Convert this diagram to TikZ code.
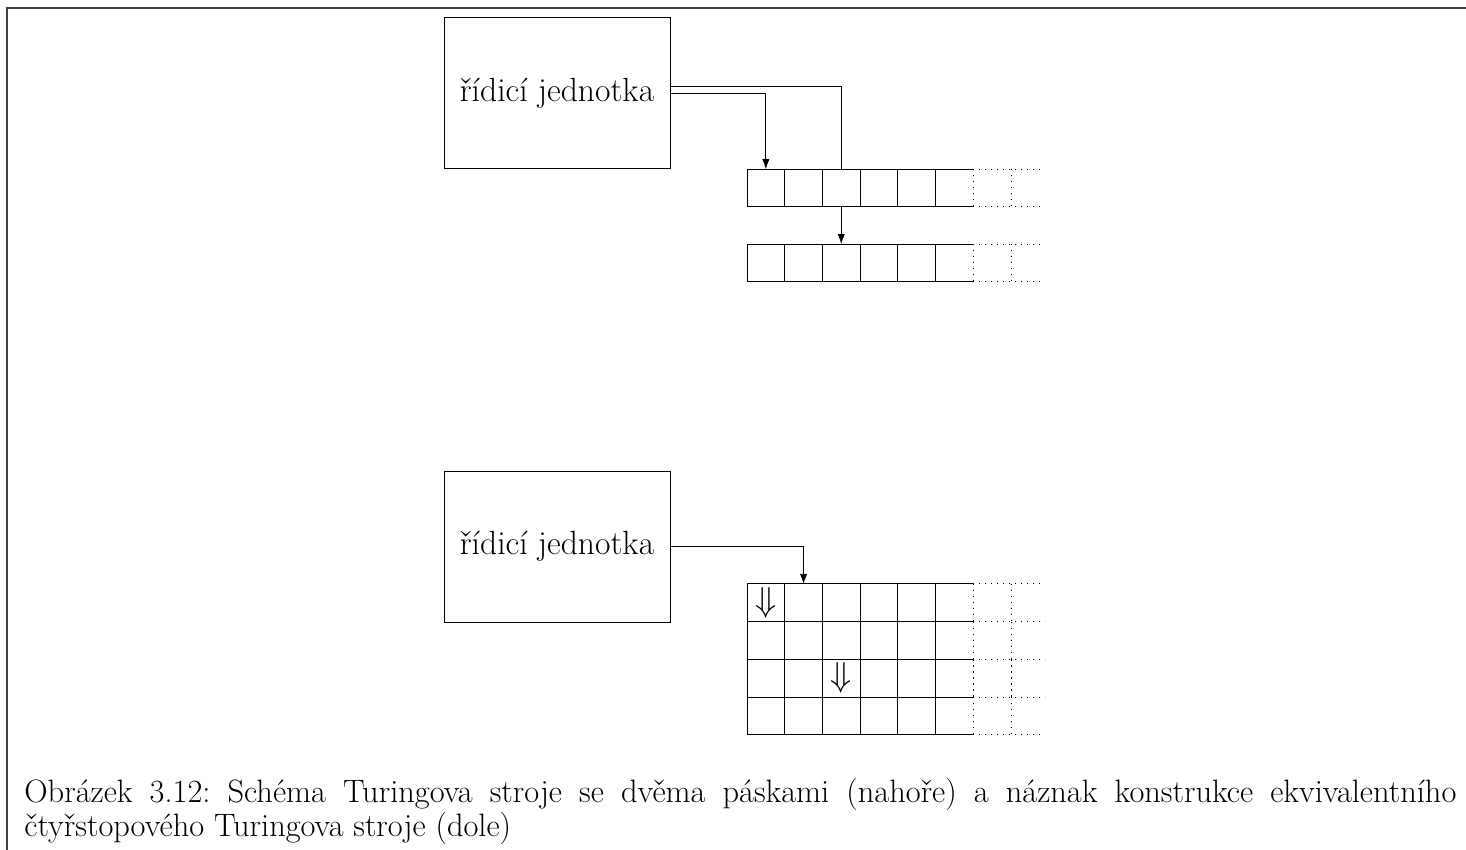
\documentclass[tikz,border=0pt]{standalone}
\usetikzlibrary{arrows.meta,calc}
\pgfdeclarelayer{background}
\pgfsetlayers{background,main}
\begin{document}
\begin{tikzpicture}[x=0.5pt,y=-0.5pt,line width=0.5pt,
  unitbox/.style={draw, minimum width=113pt, minimum height=75.5pt,
    inner sep=0pt, font=\fontsize{16.8}{19}\selectfont},
  cell/.style={fill=white, minimum size=18.85pt, inner sep=0pt, outer sep=0pt},
  head/.style={inner sep=0pt, font=\fontsize{16.8}{19}\selectfont},
  conn/.style={-{Latex[length=5pt,width=3.6pt]}},
  ext/.style={dash pattern=on 0.6pt off 2.4pt},
  frameline/.style={line width=0.7pt, draw=black!75}]
\useasboundingbox (0,0) rectangle (1466,850);
% page frame
\draw[frameline] (1466,8) -- (7,8) -- (7,850);

% control units
\node[unitbox] (A) at (557,93.5) {řídicí jednotka};
\node[unitbox] (B) at (557,546.5) {řídicí jednotka};

% two separate tapes
\foreach \t/\y in {a/188, b/263} {
  \foreach \i in {1,...,6}
    \node[cell] (\t\i) at ({728.15+37.7*\i},\y) {};
  \draw (\t1.north west) -- (\t6.north east)
        (\t1.south west) -- (\t6.south east);
  \foreach \i in {1,...,6}
    \draw (\t\i.north west) -- (\t\i.south west);
  \draw[ext] (\t6.north east) -- ++(72,0)
             (\t6.south east) -- ++(72,0)
             (\t6.north east) -- (\t6.south east)
             ([xshift=19pt]\t6.north east) -- ([xshift=19pt]\t6.south east);
}

% one tape with four tracks
\foreach \r in {1,...,4} {
  \foreach \i in {1,...,6}
    \node[cell] (g\r-\i) at ({728.15+37.7*\i},{565+37.75*\r}) {};
  \draw (g\r-1.north west) -- (g\r-6.north east)
        (g\r-1.south west) -- (g\r-6.south east);
  \foreach \i in {1,...,6}
    \draw (g\r-\i.north west) -- (g\r-\i.south west);
  \draw[ext] (g\r-6.north east) -- ++(72,0)
             (g\r-6.south east) -- ++(72,0)
             (g\r-6.north east) -- (g\r-6.south east)
             ([xshift=19pt]g\r-6.north east) -- ([xshift=19pt]g\r-6.south east);
}
\node[head] (h1) at (g1-1) {$\Downarrow$};
\node[head] (h3) at (g3-3) {$\Downarrow$};

% connections from the control units to the heads
\begin{pgfonlayer}{background}
  \draw[conn] (A.east) -| (a1.north);
  \draw[conn] ([yshift=3.75pt]A.east) -| (b3.north);
\end{pgfonlayer}
\draw[conn] (B.east) -| (g1-2.north);

% caption
\node[anchor=base west, text width=716pt, align=justify, inner sep=0pt,
      font=\fontsize{16.2}{16}\selectfont\frenchspacing] (cap) at (24,802)
  {Obrázek 3.12: Schéma Turingova stroje se dvěma páskami (nahoře) a náznak konstrukce ekvivalentního\linebreak čtyřstopového Turingova stroje (dole)};
\end{tikzpicture}
\end{document}
